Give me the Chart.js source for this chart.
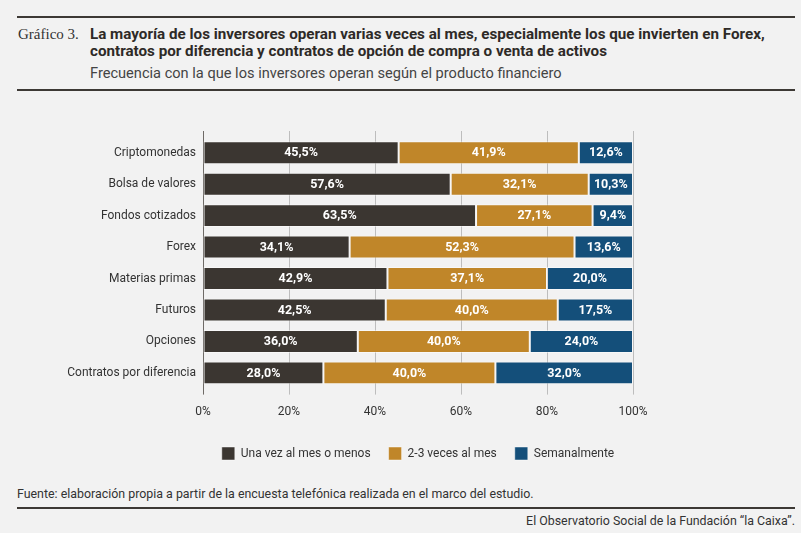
<!DOCTYPE html>
<html lang="es">
<head>
  <meta charset="UTF-8" />
  <title>Gráfico 3</title>
  <script src="https://cdn.jsdelivr.net/npm/chart.js"></script>
  <style>
    html, body { margin: 0; padding: 0; background: #f2f2f2; }
    #page { position: relative; width: 801px; height: 533px; overflow: hidden; background: #f2f2f2; color: #333; font-family: Roboto, Arial, sans-serif; }
    .rule { position: absolute; left: 17px; width: 778px; height: 2px; background: #3d3935; }
    .num { position: absolute; left: 18px; top: 26px; font-family: "Liberation Serif", serif; font-size: 15px; color: #333; }
    .title { position: absolute; left: 90px; top: 26px; font-size: 15.2px; font-weight: bold; line-height: 16.5px; color: #2e2a27; }
    .sub { position: absolute; left: 90px; top: 64px; font-size: 14.6px; color: #444; }
    .src { position: absolute; left: 17px; top: 486px; font-size: 12.4px; color: #333; }
    .credit { position: absolute; right: 6px; top: 513px; font-size: 12.4px; color: #333; }
    #wrap { position: absolute; left: 0; top: 100px; width: 801px; height: 370px; }
  </style>
</head>
<body>
<div id="page">
  <div class="rule" style="top:16px"></div>
  <div class="num">Gráfico 3.</div>
  <div class="title">La mayoría de los inversores operan varias veces al mes, especialmente los que invierten en Forex,<br>contratos por diferencia y contratos de opción de compra o venta de activos</div>
  <div class="sub">Frecuencia con la que los inversores operan según el producto financiero</div>
  <div class="rule" style="top:89px"></div>
  <div id="wrap"><canvas id="chart"></canvas></div>
  <div class="src">Fuente: elaboración propia a partir de la encuesta telefónica realizada en el marco del estudio.</div>
  <div class="rule" style="top:507px"></div>
  <div class="credit">El Observatorio Social de la Fundación “la Caixa”.</div>
</div>
<script>
  const categories = ['Criptomonedas', 'Bolsa de valores', 'Fondos cotizados', 'Forex', 'Materias primas', 'Futuros', 'Opciones', 'Contratos por diferencia'];
  const seriesNames = ['Una vez al mes o menos', '2-3 veces al mes', 'Semanalmente'];
  const monthlyOrLess = [45.5, 57.6, 63.5, 34.1, 42.9, 42.5, 36.0, 28.0];
  const twoThreeMonth = [41.9, 32.1, 27.1, 52.3, 37.1, 40.0, 40.0, 40.0];
  const weekly = [12.6, 10.3, 9.4, 13.6, 20.0, 17.5, 24.0, 32.0];
  const xTicks = [0, 20, 40, 60, 80, 100];
  const colors = ['#3b3631', '#c08629', '#144f7a'];

  const fmt = v => v.toFixed(1).replace('.', ',') + '%';

  // white value labels centred in each segment
  const valueLabels = {
    id: 'valueLabels',
    afterDatasetsDraw(chart) {
      const c = chart.ctx;
      c.save();
      c.fillStyle = '#ffffff';
      c.font = 'bold 12.5px Roboto, Arial, sans-serif';
      c.textAlign = 'center';
      c.textBaseline = 'middle';
      chart.data.datasets.forEach((ds, i) => {
        chart.getDatasetMeta(i).data.forEach((bar, j) => {
          c.fillText(fmt(ds.data[j]), (bar.x + bar.base) / 2, bar.y + 0.5);
        });
      });
      c.restore();
    }
  };

  // vertical grid lines run a little above the first bar
  const gridTop = {
    id: 'gridTop',
    beforeDatasetsDraw(chart) {
      const c = chart.ctx, x = chart.scales.x, top = chart.chartArea.top;
      c.save();
      c.lineWidth = 1;
      x.ticks.forEach((t, i) => {
        const px = Math.round(x.getPixelForValue(t.value)) + 0.5;
        c.strokeStyle = i === 0 ? '#6e6a66' : '#bdbdbd';
        c.beginPath();
        c.moveTo(px, top - 6);
        c.lineTo(px, top);
        c.stroke();
      });
      c.restore();
    }
  };

  new Chart(document.getElementById('chart'), {
    type: 'bar',
    data: {
      labels: categories,
      datasets: [
        { label: seriesNames[0], data: monthlyOrLess, backgroundColor: colors[0] },
        { label: seriesNames[1], data: twoThreeMonth, backgroundColor: colors[1] },
        { label: seriesNames[2], data: weekly, backgroundColor: colors[2] }
      ]
    },
    options: {
      indexAxis: 'y',
      responsive: true,
      maintainAspectRatio: false,
      animation: false,
      datasets: { bar: { categoryPercentage: 1, barPercentage: 0.73, borderWidth: 1, borderColor: 'rgba(255,255,255,0.45)', borderSkipped: false } },
      layout: { padding: { top: 37, right: 168, left: 0, bottom: 0 } },
      scales: {
        x: {
          stacked: true,
          min: 0, max: 100,
          afterBuildTicks: s => { s.ticks = xTicks.map(v => ({ value: v })); },
          grid: { color: ctx => ctx.index === 0 ? '#6e6a66' : '#bdbdbd', lineWidth: 1, tickLength: 6, drawTicks: true },
          border: { display: false },
          ticks: { padding: 10, color: '#333', font: { size: 12, family: 'Roboto' }, callback: v => v + '%' }
        },
        y: {
          stacked: true,
          afterFit: s => { s.width = 203; },
          grid: { display: false, drawTicks: false },
          border: { display: false },
          ticks: { padding: 7, color: '#333', font: { size: 12, family: 'Roboto' } }
        }
      },
      plugins: {
        legend: {
          position: 'bottom',
          fullSize: false,
          labels: { boxWidth: 13, boxHeight: 13, padding: 18, color: '#333', font: { size: 12, family: 'Roboto' } }
        },
        tooltip: { enabled: false }
      }
    },
    plugins: [valueLabels, gridTop]
  });
</script>
</body>
</html>
